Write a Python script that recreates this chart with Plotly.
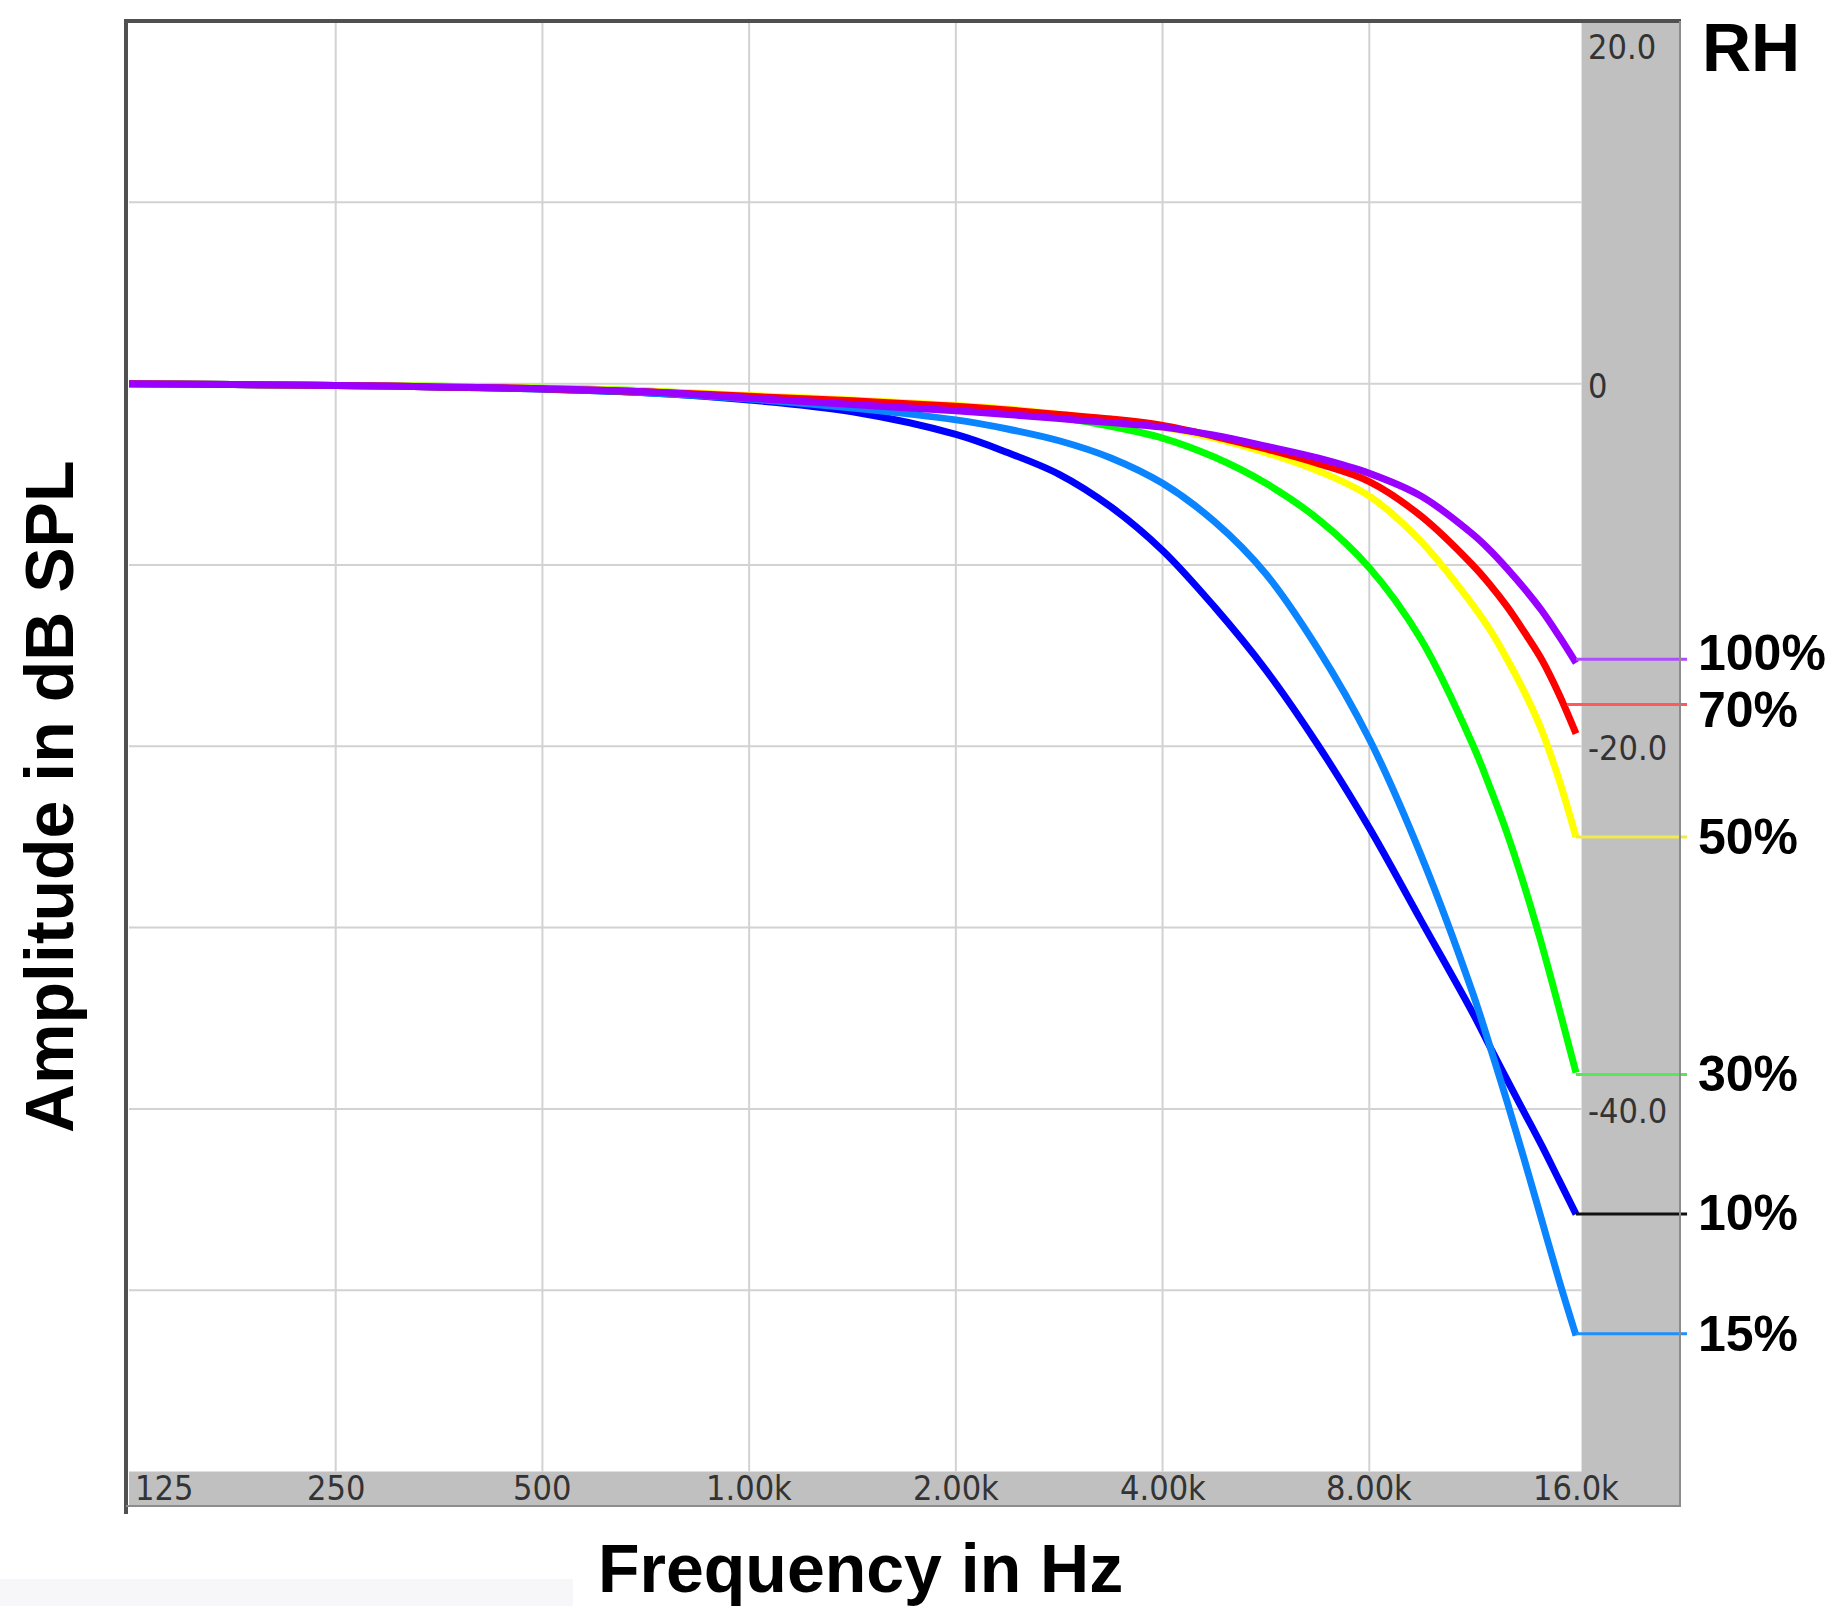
import math
import plotly.graph_objects as go

W, H = 1834, 1606

# ---------------- data ----------------
freqs = [125, 177, 250, 354, 500, 707, 1000, 1414, 2000, 2378, 2828, 3364, 4000,
         4757, 5657, 6727, 8000, 9514, 11314, 12000, 12700, 13454, 14254, 15102, 16000]

rh_10 = [0, -0.05, -0.1, -0.18, -0.3, -0.5, -0.9, -1.55, -2.8, -3.8, -5.0, -6.8, -9.2,
         -12.3, -15.8, -19.9, -24.5, -29.6, -34.7, -36.6, -38.4, -40.2, -42.0, -43.9, -45.8]
rh_15 = [0, -0.05, -0.1, -0.18, -0.3, -0.5, -0.85, -1.35, -2.0, -2.5, -3.15, -4.1, -5.5,
         -7.6, -10.5, -14.6, -19.6, -26.0, -33.6, -36.6, -39.6, -42.8, -46.1, -49.4, -52.5]
rh_30 = [0, -0.05, -0.1, -0.15, -0.25, -0.4, -0.7, -0.95, -1.3, -1.5, -1.85, -2.35, -3.0,
         -4.05, -5.5, -7.45, -10.15, -14.1, -19.9, -22.3, -24.8, -27.7, -30.9, -34.4, -38.0]
rh_50 = [0, -0.05, -0.1, -0.15, -0.25, -0.4, -0.65, -0.9, -1.2, -1.4, -1.7, -2.0, -2.4,
         -3.0, -3.8, -4.8, -6.2, -8.7, -12.2, -13.6, -15.2, -17.0, -19.1, -21.8, -25.0]
rh_70 = [0, -0.05, -0.1, -0.18, -0.28, -0.45, -0.7, -0.95, -1.25, -1.45, -1.7, -1.95, -2.3,
         -2.9, -3.6, -4.4, -5.4, -7.3, -10.0, -11.1, -12.3, -13.7, -15.2, -17.1, -19.3]
rh_100 = [0, -0.05, -0.1, -0.18, -0.28, -0.45, -0.8, -1.15, -1.5, -1.7, -1.93, -2.15, -2.4,
          -2.85, -3.45, -4.1, -4.95, -6.2, -8.3, -9.2, -10.2, -11.3, -12.5, -13.9, -15.4]

# drawing order: first drawn is underneath
series_values = [rh_10, rh_15, rh_30, rh_50, rh_70, rh_100]
series_colors = ["#0000ff", "#0a84ff", "#00ff00", "#ffff00", "#ff0000", "#9a00ff"]

label_texts = ["100%", "70%", "50%", "30%", "10%", "15%"]
label_levels = [-15.2, -17.7, -25.0, -38.1, -45.8, -52.4]
label_shift = [6, -5, 0, 0, 1, 0]
label_line_colors = ["#b04cff", "#ff5a5a", "#f2ea4a", "#5ae65a", "#111111", "#1e8fff"]
label_line_start = [16000, 15520, 16000, 16000, 16000, 16000]

x_tick_vals = [125, 250, 500, 1000, 2000, 4000, 8000, 16000]
x_tick_text = ["125", "250", "500", "1.00k", "2.00k", "4.00k", "8.00k", "16.0k"]
y_tick_vals = [20, 0, -20, -40]
y_tick_text = ["20.0", "0", "-20.0", "-40.0"]
v_grid = [250, 500, 1000, 2000, 4000, 8000]
h_grid = [10, 0, -10, -20, -30, -40, -50]

# ---------------- axes geometry ----------------
F_MIN = 125
F_STRIP = 16300      # start of the grey side strip
F_RIGHT = 22680      # right edge of grey strip
F_END = 23220        # end of label lines
X_RANGE = [math.log10(F_MIN), 4.37013]
Y_RANGE = [-61.9, 20]
Y_GRID_BOTTOM = -60


def px(x):
    return x / W


def py(y):
    return 1 - y / H


fig = go.Figure()

GREY = "#c0c0c0"
# grey strips
fig.add_trace(go.Scatter(
    x=[F_STRIP, F_RIGHT, F_RIGHT, F_STRIP, F_STRIP],
    y=[Y_RANGE[0], Y_RANGE[0], Y_RANGE[1], Y_RANGE[1], Y_RANGE[0]],
    fill="toself", fillcolor=GREY, line=dict(width=0), mode="lines",
    hoverinfo="skip", showlegend=False))
fig.add_trace(go.Scatter(
    x=[F_MIN, F_RIGHT, F_RIGHT, F_MIN, F_MIN],
    y=[Y_RANGE[0], Y_RANGE[0], Y_GRID_BOTTOM, Y_GRID_BOTTOM, Y_RANGE[0]],
    fill="toself", fillcolor=GREY, line=dict(width=0), mode="lines",
    hoverinfo="skip", showlegend=False))

# grid lines
gx, gy = [], []
for f in v_grid:
    gx += [f, f, None]
    gy += [Y_GRID_BOTTOM, Y_RANGE[1], None]
for v in h_grid:
    gx += [F_MIN, F_STRIP, None]
    gy += [v, v, None]
fig.add_trace(go.Scatter(x=gx, y=gy, mode="lines",
                         line=dict(color="#d2d2d2", width=2),
                         hoverinfo="skip", showlegend=False))

# curves
for vals, col in zip(series_values, series_colors):
    fig.add_trace(go.Scatter(x=freqs, y=vals, mode="lines",
                             line=dict(color=col, width=7, shape="spline", smoothing=1.0),
                             showlegend=False))

# label lines
for lvl, col, x0 in zip(label_levels, label_line_colors, label_line_start):
    fig.add_trace(go.Scatter(x=[x0, F_END], y=[lvl, lvl], mode="lines",
                             line=dict(color=col, width=3),
                             hoverinfo="skip", showlegend=False))

annotations = []
TICK_FONT = dict(family="Liberation Sans Narrow, DejaVu Sans Condensed, Arial Narrow, sans-serif",
                 size=34, color="#333333")
for f, t in zip(x_tick_vals, x_tick_text):
    left = (f == F_MIN)
    annotations.append(dict(
        x=math.log10(f), y=-60.9, xref="x", yref="y", text=t, showarrow=False,
        xanchor="left" if left else "center", yanchor="middle",
        xshift=4 if left else 0, font=TICK_FONT))
for v, t in zip(y_tick_vals, y_tick_text):
    annotations.append(dict(
        x=px(1586), y=v, xref="paper", yref="y", text=t, showarrow=False,
        xanchor="left", yanchor="top" if v == Y_RANGE[1] else "middle",
        yshift=-4 if v == Y_RANGE[1] else -2, font=TICK_FONT))

BOLD = dict(family="Liberation Sans, Arial, Helvetica, sans-serif", color="#000000")
for t, lvl, sh in zip(label_texts, label_levels, label_shift):
    annotations.append(dict(
        x=px(1696), y=lvl, xref="paper", yref="y", text="<b>%s</b>" % t,
        showarrow=False, xanchor="left", yanchor="middle", yshift=sh,
        font=dict(size=50, **BOLD)))
annotations.append(dict(x=px(1700), y=py(47), xref="paper", yref="paper",
                        text="<b>RH</b>", showarrow=False, xanchor="left",
                        yanchor="middle", font=dict(size=68, **BOLD)))
annotations.append(dict(x=px(860), y=py(1568), xref="paper", yref="paper",
                        text="<b>Frequency in Hz</b>", showarrow=False,
                        xanchor="center", yanchor="middle",
                        font=dict(size=68, **BOLD)))
annotations.append(dict(x=px(49), y=py(797), xref="paper", yref="paper",
                        text="<b>Amplitude in dB SPL</b>", showarrow=False,
                        textangle=-90, xanchor="center", yanchor="middle",
                        font=dict(size=68, **BOLD)))

shapes = [
    dict(type="rect", xref="paper", yref="paper", x0=0, x1=px(573),
         y0=0, y1=py(1579), fillcolor="#f7f7fa", line=dict(width=0), layer="below"),
    # frame
    dict(type="line", xref="paper", yref="paper", x0=px(126), x1=px(126),
         y0=py(20), y1=py(1514), line=dict(color="#505050", width=4)),
    dict(type="line", xref="paper", yref="paper", x0=px(124), x1=px(1681),
         y0=py(21), y1=py(21), line=dict(color="#505050", width=4)),
    dict(type="line", xref="paper", yref="paper", x0=px(1680), x1=px(1680),
         y0=py(21), y1=py(1507), line=dict(color="#8c8c8c", width=2)),
    dict(type="line", xref="paper", yref="paper", x0=px(126), x1=px(1681),
         y0=py(1506), y1=py(1506), line=dict(color="#8c8c8c", width=2)),
]

axis_common = dict(showgrid=False, zeroline=False, showticklabels=False,
                   showline=False, ticks="")
fig.update_layout(
    width=W, height=H,
    margin=dict(l=0, r=0, t=0, b=0),
    paper_bgcolor="#ffffff", plot_bgcolor="#ffffff",
    xaxis=dict(type="log", range=X_RANGE, domain=[px(129), px(1690)], **axis_common),
    yaxis=dict(range=Y_RANGE, domain=[py(1506), py(21)], **axis_common),
    annotations=annotations, shapes=shapes, showlegend=False,
)

fig.write_html("out.html")
